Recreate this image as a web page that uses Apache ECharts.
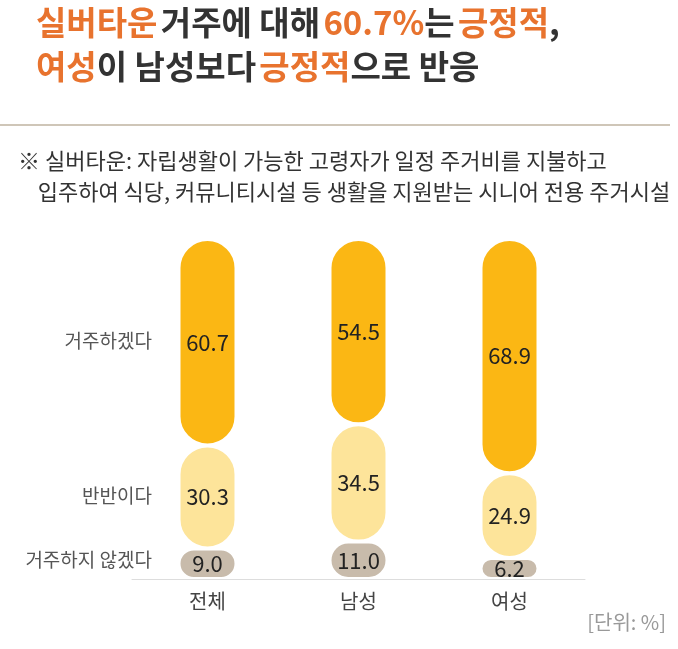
<!DOCTYPE html><html><head><meta charset="utf-8"><script src="https://cdn.jsdelivr.net/npm/echarts@6/dist/echarts.min.js"></script>
<style>body{margin:0}#c{width:678px;height:649px}</style></head><body><div id="c"></div><script>
const categories=['전체','남성','여성'];
const noLive=[9.0,11.0,6.2];
const half=[30.3,34.5,24.9];
const live=[60.7,54.5,68.9];
const rowLabels=['거주하겠다','반반이다','거주하지 않겠다'];
const F='"Noto Sans CJK KR"';
const ch=echarts.init(document.getElementById('c'));
const lab={show:true,position:'inside',color:'#222',fontSize:22,fontFamily:F,formatter:p=>p.value.toFixed(1)};
function s(name,data,color){return {name,type:'bar',stack:'a',data,barWidth:58,
 itemStyle:{color,borderRadius:29,borderColor:'#fff',borderWidth:2},label:lab};}
ch.setOption({
 grid:{left:132,width:453,top:239,bottom:70},
 xAxis:{type:'category',data:categories,axisTick:{show:false},axisLine:{lineStyle:{color:'#ddd'}},
  axisLabel:{color:'#444',fontSize:20,fontFamily:F,margin:12}},
 yAxis:{type:'value',min:0,max:100,show:false},
 series:[s('거주하지 않겠다',noLive,'#C8BBAB'),s('반반이다',half,'#FDE49A'),s('거주하겠다',live,'#FBB714')],
 graphic:[
  {type:'text',left:36,top:0,style:{rich:{o:{fill:'#E8732E',fontSize:33,fontWeight:'bold',fontFamily:F},k:{fill:'#333',fontSize:33,fontWeight:'bold',fontFamily:F}},
   text:'{o|실버타운} {k|거주에 대해} {o|60.7%}{k|는} {o|긍정적}{k|,}\n{o|여성}{k|이 남성보다} {o|긍정적}{k|으로 반응}',lineHeight:44}},
  {type:'rect',shape:{x:0,y:124,width:670,height:2},style:{fill:'#CFC6B8'}},
  {type:'text',left:18,top:145,style:{text:'※ 실버타운: 자립생활이 가능한 고령자가 일정 주거비를 지불하고\n    입주하여 식당, 커뮤니티시설 등 생활을 지원받는 시니어 전용 주거시설',fill:'#333',fontSize:22,fontFamily:F,lineHeight:31}},
  {type:'text',right:526,top:331,style:{text:rowLabels[0],fill:'#555',fontSize:19,fontFamily:F,align:'right'}},
  {type:'text',right:526,top:486,style:{text:rowLabels[1],fill:'#555',fontSize:19,fontFamily:F,align:'right'}},
  {type:'text',right:526,top:550,style:{text:rowLabels[2],fill:'#555',fontSize:19,fontFamily:F,align:'right'}},
  {type:'text',right:12,top:612,style:{text:'[단위: %]',fill:'#999',fontSize:20,fontFamily:F}}
 ]
});
</script></body></html>
